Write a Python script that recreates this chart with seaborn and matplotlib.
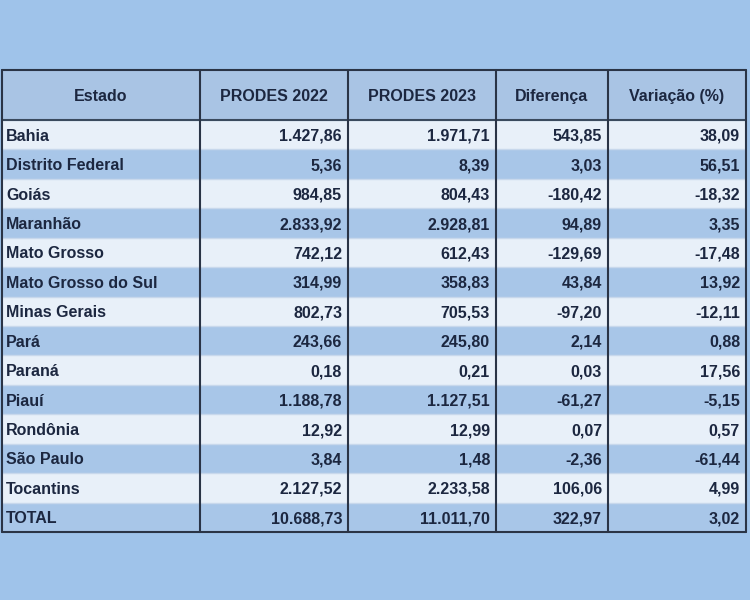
import matplotlib
matplotlib.use("Agg")
import matplotlib.pyplot as plt
import seaborn as sns
import numpy as np

sns.set_theme(style="white")
plt.rcParams['font.family'] = ['Liberation Sans', 'DejaVu Sans']

headers = ["Estado", "PRODES 2022", "PRODES 2023", "Diferença", "Variação (%)"]
estados = ["Bahia", "Distrito Federal", "Goiás", "Maranhão", "Mato Grosso", "Mato Grosso do Sul",
           "Minas Gerais", "Pará", "Paraná", "Piauí", "Rondônia", "São Paulo", "Tocantins", "TOTAL"]
prodes2022 = ["1.427,86", "5,36", "984,85", "2.833,92", "742,12", "314,99", "802,73", "243,66",
              "0,18", "1.188,78", "12,92", "3,84", "2.127,52", "10.688,73"]
prodes2023 = ["1.971,71", "8,39", "804,43", "2.928,81", "612,43", "358,83", "705,53", "245,80",
              "0,21", "1.127,51", "12,99", "1,48", "2.233,58", "11.011,70"]
diferenca = ["543,85", "3,03", "-180,42", "94,89", "-129,69", "43,84", "-97,20", "2,14",
             "0,03", "-61,27", "0,07", "-2,36", "106,06", "322,97"]
variacao = ["38,09", "56,51", "-18,32", "3,35", "-17,48", "13,92", "-12,11", "0,88",
            "17,56", "-5,15", "0,57", "-61,44", "4,99", "3,02"]

bg = "#9fc3ea"
fig = plt.figure(figsize=(7.5, 6), dpi=100, facecolor=bg)
ax = fig.add_axes([0, 0, 1, 1])
ax.set_xlim(0, 750)
ax.set_ylim(600, 0)
ax.axis("off")

xe = np.array([2, 200, 348, 496, 608, 746])
ye = np.concatenate([[70], 120 + np.arange(15) * (412 / 14)])
C = np.array([[0] * 5] + [[1 if i % 2 == 0 else 2] * 5 for i in range(14)])
cmap = matplotlib.colors.ListedColormap(["#a9c4e4", "#e8f0f9", "#a8c6e8"])
ax.pcolormesh(xe, ye, C, cmap=cmap, vmin=-0.5, vmax=2.5, edgecolors="none")
for y in ye[1:-1]:
    ax.plot([xe[0], xe[-1]], [y, y], color="#c8d8ec", lw=1)
ax.plot([xe[0], xe[-1]], [ye[1], ye[1]], color="#3a4a5e", lw=1.5)
for y in (ye[0], ye[-1]):
    ax.plot([xe[0], xe[-1]], [y, y], color="#2a3446", lw=1.5)
for x in xe:
    ax.plot([x, x], [ye[0], ye[-1]], color="#2a3446", lw=1.5)

tc = "#1c2740"
for j, h in enumerate(headers):
    ax.text((xe[j] + xe[j + 1]) / 2, (ye[0] + ye[1]) / 2, h, ha="center", va="center_baseline",
            fontsize=11.5, fontweight="bold", color=tc)
cols = [prodes2022, prodes2023, diferenca, variacao]
for i, est in enumerate(estados):
    yc = (ye[i + 1] + ye[i + 2]) / 2
    ax.text(xe[0] + 4, yc, est, ha="left", va="center_baseline", fontsize=11.5, fontweight="bold", color=tc)
    for j, col in enumerate(cols):
        ax.text(xe[j + 2] - 6, yc, col[i], ha="right", va="center_baseline", fontsize=11.5,
                fontweight="bold", color=tc)

fig.savefig("out.png", dpi=100, facecolor=bg)
